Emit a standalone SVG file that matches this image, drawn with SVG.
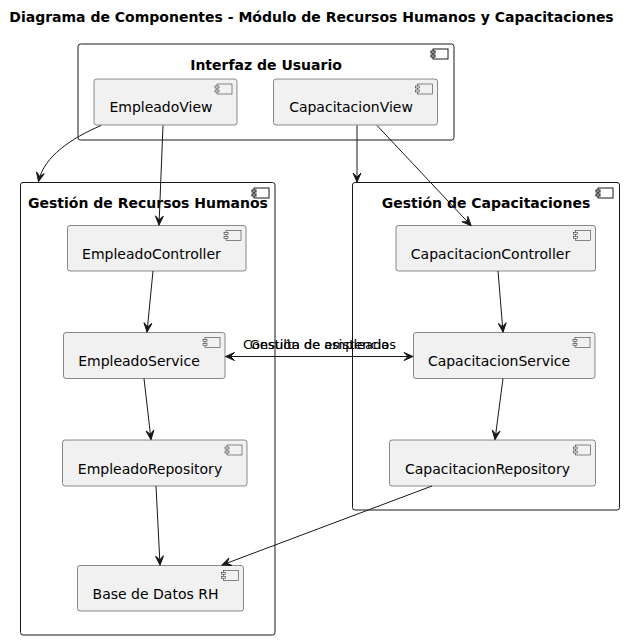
<svg xmlns="http://www.w3.org/2000/svg" width="631" height="640" viewBox="0 0 631 640">
<style>
text{font-family:"DejaVu Sans","Liberation Sans",sans-serif;fill:#000}
.title{font-size:14px;font-weight:bold}
.ctitle{font-size:14px;font-weight:bold;text-anchor:middle}
.cname{font-size:14px;text-anchor:middle}
.lbl{font-size:13px;text-anchor:middle}
.cont{fill:#FFFFFF;stroke:#181818;stroke-width:1}
.comp{fill:#F1F1F1;stroke:#181818;stroke-width:0.5}
.ico{fill:#F1F1F1;stroke:#181818;stroke-width:0.5}
.cico{fill:#FFFFFF;stroke:#181818;stroke-width:1}
.edge{fill:none;stroke:#181818;stroke-width:1}
</style>
<defs>
<marker id="ah" markerUnits="userSpaceOnUse" viewBox="-10 -5 11 10" refX="0" refY="0" markerWidth="11" markerHeight="10" orient="auto-start-reverse">
<path d="M0,0 L-9,-4 L-5,0 L-9,4 Z" fill="#181818" stroke="#181818" stroke-width="1"/>
</marker>
</defs>
<rect width="631" height="640" fill="#FFFFFF"/>
<text class="title" x="311.5" y="22" text-anchor="middle">Diagrama de Componentes - Módulo de Recursos Humanos y Capacitaciones</text>

<g id="interfaz-usuario">
<rect class="cont" x="78" y="44" width="376" height="96" rx="2.5"/>
<rect class="cico" x="433" y="49" width="15" height="10"/>
<rect class="cico" x="431" y="51" width="4" height="2"/>
<rect class="cico" x="431" y="55" width="4" height="2"/>
<text class="ctitle" x="266" y="70">Interfaz de Usuario</text>
</g>

<g id="gestion-rh">
<rect class="cont" x="20.5" y="182.5" width="254.5" height="452.5" rx="2.5"/>
<rect class="cico" x="254" y="188" width="15" height="10"/>
<rect class="cico" x="252" y="190" width="4" height="2"/>
<rect class="cico" x="252" y="194" width="4" height="2"/>
<text class="ctitle" x="148" y="208">Gestión de Recursos Humanos</text>
</g>

<g id="gestion-capacitaciones">
<rect class="cont" x="352.5" y="182.5" width="267" height="327.5" rx="2.5"/>
<rect class="cico" x="598" y="188" width="15" height="10"/>
<rect class="cico" x="596" y="190" width="4" height="2"/>
<rect class="cico" x="596" y="194" width="4" height="2"/>
<text class="ctitle" x="486" y="208">Gestión de Capacitaciones</text>
</g>

<g id="EmpleadoView">
<rect class="comp" x="94" y="79" width="143" height="46" rx="2.5"/>
<rect class="ico" x="217" y="84" width="15" height="10"/>
<rect class="ico" x="215" y="86" width="4" height="2"/>
<rect class="ico" x="215" y="90" width="4" height="2"/>
<text class="cname" x="161" y="112">EmpleadoView</text>
</g>

<g id="CapacitacionView">
<rect class="comp" x="273.5" y="79" width="164" height="46" rx="2.5"/>
<rect class="ico" x="417.5" y="84" width="15" height="10"/>
<rect class="ico" x="415.5" y="86" width="4" height="2"/>
<rect class="ico" x="415.5" y="90" width="4" height="2"/>
<text class="cname" x="351" y="112">CapacitacionView</text>
</g>

<g id="EmpleadoController">
<rect class="comp" x="67.5" y="225.5" width="178.5" height="45.5" rx="2.5"/>
<rect class="ico" x="226" y="230.5" width="15" height="10"/>
<rect class="ico" x="224" y="232.5" width="4" height="2"/>
<rect class="ico" x="224" y="236.5" width="4" height="2"/>
<text class="cname" x="151.5" y="259">EmpleadoController</text>
</g>

<g id="EmpleadoService">
<rect class="comp" x="63.5" y="332.5" width="161.5" height="46" rx="2.5"/>
<rect class="ico" x="205" y="337.5" width="15" height="10"/>
<rect class="ico" x="203" y="339.5" width="4" height="2"/>
<rect class="ico" x="203" y="343.5" width="4" height="2"/>
<text class="cname" x="139" y="366">EmpleadoService</text>
</g>

<g id="EmpleadoRepository">
<rect class="comp" x="62.5" y="440" width="184.5" height="46" rx="2.5"/>
<rect class="ico" x="227" y="445" width="15" height="10"/>
<rect class="ico" x="225" y="447" width="4" height="2"/>
<rect class="ico" x="225" y="451" width="4" height="2"/>
<text class="cname" x="150" y="473.5">EmpleadoRepository</text>
</g>

<g id="BaseDatosRH">
<rect class="comp" x="77.5" y="565.5" width="166" height="45.5" rx="2.5"/>
<rect class="ico" x="223.5" y="570.5" width="15" height="10"/>
<rect class="ico" x="221.5" y="572.5" width="4" height="2"/>
<rect class="ico" x="221.5" y="576.5" width="4" height="2"/>
<text class="cname" x="155.5" y="598.5">Base de Datos RH</text>
</g>

<g id="CapacitacionController">
<rect class="comp" x="396" y="225.5" width="199.5" height="45.5" rx="2.5"/>
<rect class="ico" x="575.5" y="230.5" width="15" height="10"/>
<rect class="ico" x="573.5" y="232.5" width="4" height="2"/>
<rect class="ico" x="573.5" y="236.5" width="4" height="2"/>
<text class="cname" x="490.5" y="259">CapacitacionController</text>
</g>

<g id="CapacitacionService">
<rect class="comp" x="413.5" y="332.5" width="181.5" height="46" rx="2.5"/>
<rect class="ico" x="575" y="337.5" width="15" height="10"/>
<rect class="ico" x="573" y="339.5" width="4" height="2"/>
<rect class="ico" x="573" y="343.5" width="4" height="2"/>
<text class="cname" x="499" y="366">CapacitacionService</text>
</g>

<g id="CapacitacionRepository">
<rect class="comp" x="389.5" y="440" width="206" height="46" rx="2.5"/>
<rect class="ico" x="575.5" y="445" width="15" height="10"/>
<rect class="ico" x="573.5" y="447" width="4" height="2"/>
<rect class="ico" x="573.5" y="451" width="4" height="2"/>
<text class="cname" x="487.5" y="473.5">CapacitacionRepository</text>
</g>

<g id="connectors">
<path class="edge" d="M101,125.5 C72,138 44,156 38.5,181.5" marker-end="url(#ah)"/>
<path class="edge" d="M163,125.5 L159,225" marker-end="url(#ah)"/>
<path class="edge" d="M357,125.5 L357,182" marker-end="url(#ah)"/>
<path class="edge" d="M377,125.5 L471,225.5" marker-end="url(#ah)"/>
<path class="edge" d="M153,271 L147,332" marker-end="url(#ah)"/>
<path class="edge" d="M144,378.5 L151,439.5" marker-end="url(#ah)"/>
<path class="edge" d="M156,486 L160,565" marker-end="url(#ah)"/>
<path class="edge" d="M498,271 L503,332" marker-end="url(#ah)"/>
<path class="edge" d="M503,378.5 L495,439.5" marker-end="url(#ah)"/>
<path class="edge" d="M432,486 L222,565" marker-end="url(#ah)"/>
<path class="edge" d="M413,356.5 L225.5,356.5" marker-end="url(#ah)"/>
<path class="edge" d="M225.5,356.5 L413,356.5" marker-end="url(#ah)"/>
<text class="lbl" x="319.5" y="349">Consulta de empleados</text>
<text class="lbl" x="319.5" y="349">Gestión de asistencia</text>
</g>
</svg>
